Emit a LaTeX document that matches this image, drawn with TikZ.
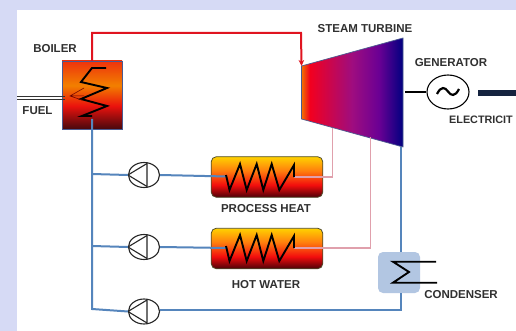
\documentclass[tikz,border=0pt]{standalone}
\usepackage{fontspec}
\setmainfont{Liberation Sans}
\usetikzlibrary{shapes.geometric,arrows.meta,calc}
\definecolor{pagebg}{HTML}{D6DAF5}
\definecolor{hotred}{HTML}{E01420}
\definecolor{coldblue}{HTML}{5585BC}
\definecolor{warmpink}{HTML}{E0A0AC}
\definecolor{labelgrey}{HTML}{303030}
\definecolor{arrownavy}{HTML}{15233F}
\definecolor{condfill}{HTML}{B2C6E2}
\definecolor{unitedge}{HTML}{4A5A90}
\pgfdeclareverticalshading{boilershade}{100bp}{rgb(0bp)=(0.28,0.03,0.05); rgb(25bp)=(0.28,0.03,0.05); rgb(42bp)=(0.92,0.07,0.05); rgb(57bp)=(0.95,0.5,0.0); rgb(75bp)=(0.93,0.2,0.05); rgb(100bp)=(0.93,0.2,0.05)}
\pgfdeclareverticalshading{hxshade}{100bp}{rgb(0bp)=(0.3,0.0,0.03); rgb(25bp)=(0.3,0.0,0.03); rgb(40bp)=(0.95,0.05,0.05); rgb(58bp)=(1.0,0.5,0.05); rgb(75bp)=(1.0,0.82,0.0); rgb(100bp)=(1.0,0.82,0.0)}
\pgfdeclarehorizontalshading{turbineshade}{100bp}{rgb(0bp)=(0.95,0.45,0.0); rgb(25bp)=(0.95,0.45,0.0); rgb(29bp)=(0.95,0.0,0.12); rgb(50bp)=(0.62,0.05,0.5); rgb(63bp)=(0.42,0.0,0.58); rgb(75bp)=(0.0,0.0,0.5); rgb(100bp)=(0.0,0.0,0.5)}
\tikzset{
  lbl/.style={font=\bfseries\fontsize{11.5}{13}\selectfont,text=labelgrey,inner sep=0pt},
  hotline/.style={draw=hotred,line width=2pt},
  coldline/.style={draw=coldblue,line width=2pt},
  warmline/.style={draw=warmpink,line width=1.8pt},
  coil/.style={draw=black,line width=1.9pt,line join=miter},
  pumpnode/.style={ellipse,draw=black!85,line width=1.1pt,minimum width=31pt,minimum height=25pt,inner sep=0pt,fill=white},
  hxnode/.style={rounded corners=5pt,draw=black!55!olive,line width=.8pt,shading=hxshade,minimum width=111.5pt,minimum height=40.5pt,inner sep=0pt},
}
\begin{document}
\begin{tikzpicture}[x=1pt,y=-1pt]
\useasboundingbox (0,0) rectangle (516,331);
\fill[pagebg] (0,0) rectangle (516,331);
\fill[white] (17,10) rectangle (516,331);
% main units
\node[draw=unitedge,line width=.8pt,shading=boilershade,minimum width=60pt,minimum height=68pt,inner sep=0pt] (boiler) at (92,95) {};
\node[hxnode] (hxa) at (267,177) {};
\node[hxnode] (hxb) at (267,248.5) {};
\node[rounded corners=5pt,fill=condfill,minimum width=42pt,minimum height=41pt,inner sep=0pt] (cond) at (399,272.5) {};
\coordinate (ta) at (301.5,66);
\coordinate (tb) at (403,38);
\coordinate (tc) at (403,147);
\coordinate (td) at (301.5,119);
\path[draw=unitedge,line width=.7pt,shading=turbineshade] (ta) -- (tb) -- (tc) -- (td) -- cycle;
% junctions
\coordinate (steamtop) at (92,33);
\coordinate (steamin) at (301,33);
\coordinate (coilout) at (92,61);
\coordinate (coilin) at (92,119);
\coordinate (ja) at (92,174);
\coordinate (jb) at (92,246);
\coordinate (jc) at (92,309);
\coordinate (hxain) at (227,176.5);
\coordinate (hxbin) at (227,248);
\coordinate (hxaout) at (294,177);
\coordinate (hxbout) at (294,248);
\coordinate (exa) at (332.5,128);
\coordinate (exb) at (370.5,137);
\coordinate (exc) at (401,147);
\coordinate (corner) at (401,310);
% pumps
\node[pumpnode] (pumpa) at (144,175) {};
\node[pumpnode] (pumpb) at (144,247) {};
\node[pumpnode] (pumpc) at (144,311.5) {};
\foreach \p in {pumpa,pumpb,pumpc}
  \draw[black!85,line width=1.1pt] (\p.west) -- ($(\p.center)+(3,-11.5)$) -- ($(\p.center)+(3,11.5)$) -- cycle;
% lines
\draw[coldline] (coilin) -- (jc) -- (pumpc.west);
\draw[coldline] (ja) -- (pumpa.west);
\draw[coldline] (jb) -- (pumpb.west);
\draw[coldline] (pumpa.east) -- (hxain);
\draw[coldline] (pumpb.east) -- (hxbin);
\draw[coldline] (pumpc.east |- corner) -- (corner) -- (cond.south -| corner);
\draw[coldline] (exc) -- (cond.north -| exc);
\draw[warmline] (hxaout) -- (hxaout -| exa) -- (exa);
\draw[warmline] (hxbout) -- (hxbout -| exb) -- (exb);
\draw[hotline,-{Stealth[length=6pt,width=5.5pt]}] (coilout) -- (steamtop) -- (steamin) -- (ta);
% boiler coil and flame
\draw[coil] (106,68) -- (92,68) -- (81,82) -- (107,88) -- (81,99) -- (107,106) -- (82,116) -- (92,116);
\draw[draw=black!60!red,line width=.5pt] (84,88) -- (70,96) -- (82,100) (70,96) -- (84,96);
\draw[black!80,line width=1pt] (17,96.5) -- (65,96.5) (17,99.5) -- (65,99.5);
% heat exchanger coils
\foreach \h/\d in {hxa/0,hxb/71}{
  \draw[coil] (226,175+\d) -- (229.5,190+\d) -- (240,164+\d) -- (246.7,190+\d) -- (256.7,164+\d) -- (263.3,190+\d) -- (271.7,164+\d) -- (279.3,190+\d) -- (294,165+\d) -- (294,177+\d);
}
% condenser coil
\draw[black,line width=1.9pt] (436,261.7) -- (393,261.7) -- (409,272) -- (393,282.7) -- (437,282.7);
% generator
\node[ellipse,draw=black,line width=1.1pt,minimum width=42pt,minimum height=34pt,inner sep=0pt] (gen) at (448,92) {};
\coordinate (shaft) at (405,92);
\draw[black,line width=1.1pt] (shaft) -- (gen.west);
\draw[black,line width=2.2pt] (437,94) .. controls (441,86) and (445,87) .. (448,91.5) .. controls (451,96) and (455,97) .. (459,89);
\coordinate (elecstart) at (478,93);
\coordinate (elecend) at (516,93);
\draw[arrownavy,line width=6pt] (elecstart) -- (elecend);
% labels
\node[lbl] (lboiler) at (55,49) {BOILER};
\node[lbl] (lfuel) at (37.5,111) {FUEL};
\node[lbl] (lsteam) at (365,29) {STEAM TURBINE};
\node[lbl] (lgen) at (451,63) {GENERATOR};
\node[lbl,anchor=west,font=\bfseries\fontsize{10.8}{13}\selectfont] (lelec) at (449,120) {ELECTRICIT};
\node[lbl] (lproc) at (266,209) {PROCESS HEAT};
\node[lbl] (lhot) at (266,285) {HOT WATER};
\node[lbl] (lcond) at (461,295) {CONDENSER};
\end{tikzpicture}
\end{document}
